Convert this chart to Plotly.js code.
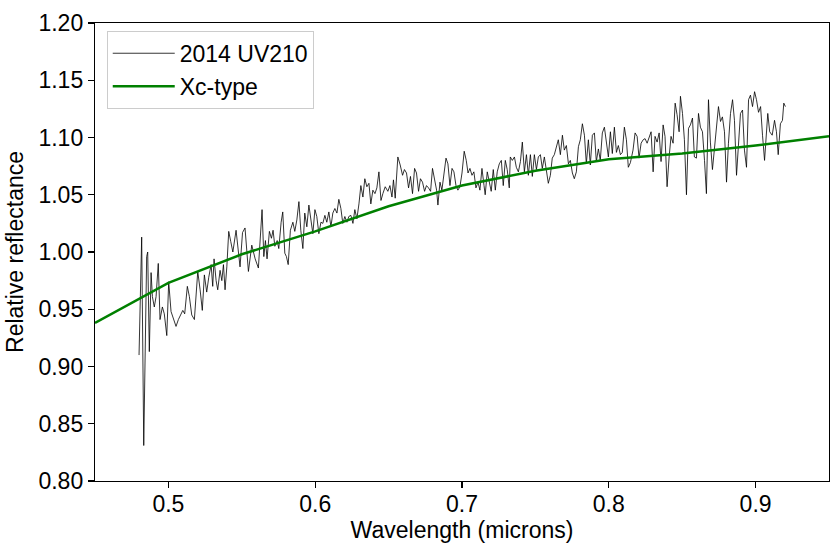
<!DOCTYPE html>
<html>
<head>
<meta charset="utf-8">
<script src="https://cdn.plot.ly/plotly-3.0.1.min.js"></script>
<style>html,body{margin:0;padding:0;background:#fff;}#chart{width:838px;height:548px;}</style>
</head>
<body>
<div id="chart"></div>
<script>
// Spectrum of 2014 UV210 (wavelength in microns, relative reflectance)
const specWl = [0.4800,0.4818,0.4832,0.4852,0.4859,0.4870,0.4882,0.4891,0.4904,0.4916,0.4931,0.4943,0.4959,0.4972,0.4989,0.5002,0.5018,0.5034,0.5052,0.5068,0.5084,0.5098,0.5111,0.5129,0.5143,0.5159,0.5177,0.5200,0.5216,0.5231,0.5245,0.5261,0.5275,0.5291,0.5302,0.5311,0.5325,0.5336,0.5352,0.5364,0.5375,0.5386,0.5398,0.5411,0.5425,0.5439,0.5461,0.5477,0.5488,0.5505,0.5522,0.5545,0.5568,0.5591,0.5613,0.5638,0.5650,0.5661,0.5672,0.5688,0.5702,0.5713,0.5725,0.5741,0.5752,0.5768,0.5779,0.5793,0.5804,0.5816,0.5831,0.5848,0.5861,0.5875,0.5889,0.5902,0.5916,0.5929,0.5943,0.5957,0.5970,0.5984,0.5998,0.6011,0.6025,0.6039,0.6052,0.6066,0.6079,0.6093,0.6107,0.6120,0.6134,0.6148,0.6161,0.6175,0.6188,0.6202,0.6216,0.6229,0.6243,0.6257,0.6270,0.6284,0.6298,0.6311,0.6325,0.6338,0.6352,0.6366,0.6379,0.6393,0.6407,0.6420,0.6434,0.6448,0.6461,0.6477,0.6495,0.6509,0.6523,0.6533,0.6545,0.6563,0.6579,0.6595,0.6608,0.6622,0.6636,0.6649,0.6663,0.6677,0.6690,0.6704,0.6717,0.6731,0.6745,0.6758,0.6772,0.6786,0.6799,0.6813,0.6827,0.6836,0.6850,0.6863,0.6877,0.6891,0.6904,0.6918,0.6932,0.6945,0.6959,0.6972,0.6986,0.7000,0.7015,0.7029,0.7041,0.7054,0.7068,0.7081,0.7095,0.7109,0.7122,0.7136,0.7150,0.7158,0.7172,0.7186,0.7199,0.7213,0.7227,0.7240,0.7254,0.7268,0.7281,0.7295,0.7308,0.7322,0.7329,0.7343,0.7357,0.7370,0.7384,0.7398,0.7411,0.7425,0.7439,0.7452,0.7466,0.7479,0.7493,0.7507,0.7520,0.7534,0.7547,0.7561,0.7575,0.7588,0.7602,0.7615,0.7629,0.7643,0.7656,0.7670,0.7684,0.7697,0.7711,0.7725,0.7738,0.7752,0.7765,0.7779,0.7793,0.7806,0.7820,0.7834,0.7847,0.7861,0.7874,0.7888,0.7902,0.7915,0.7929,0.7942,0.7956,0.7970,0.7983,0.7997,0.8011,0.8024,0.8038,0.8052,0.8065,0.8079,0.8092,0.8106,0.8120,0.8133,0.8147,0.8165,0.8179,0.8193,0.8206,0.8220,0.8234,0.8247,0.8261,0.8274,0.8288,0.8302,0.8315,0.8329,0.8343,0.8356,0.8370,0.8383,0.8397,0.8411,0.8424,0.8438,0.8452,0.8465,0.8479,0.8488,0.8502,0.8515,0.8529,0.8543,0.8556,0.8570,0.8583,0.8597,0.8611,0.8624,0.8638,0.8652,0.8665,0.8679,0.8692,0.8706,0.8720,0.8733,0.8747,0.8761,0.8774,0.8788,0.8802,0.8815,0.8829,0.8843,0.8856,0.8870,0.8883,0.8897,0.8911,0.8924,0.8938,0.8952,0.8965,0.8979,0.8993,0.9006,0.9020,0.9034,0.9047,0.9061,0.9083,0.9096,0.9113,0.9129,0.9142,0.9154,0.9169,0.9183,0.9192,0.9203];
const specRefl = [0.910,1.013,0.831,0.996,1.000,0.913,0.982,0.961,0.952,0.961,0.990,0.941,0.952,0.946,0.927,0.974,0.948,0.941,0.935,0.941,0.946,0.949,0.946,0.970,0.961,0.945,0.941,0.983,0.967,0.949,0.980,0.965,0.978,0.989,0.970,0.994,0.975,0.967,0.984,0.975,0.989,0.967,0.987,1.018,1.009,1.000,1.019,0.997,0.987,1.017,1.021,0.983,1.006,0.994,0.986,1.037,0.996,1.010,0.994,1.018,1.012,1.019,1.005,1.010,1.003,1.026,1.035,0.999,0.996,0.989,1.019,1.026,1.018,1.028,1.044,1.019,1.003,1.034,1.022,1.041,1.028,1.016,1.037,1.031,1.016,1.026,1.025,1.032,1.026,1.035,1.022,1.034,1.038,1.034,1.046,1.038,1.025,1.031,1.026,1.031,1.032,1.025,1.037,1.029,1.042,1.058,1.048,1.064,1.057,1.060,1.042,1.054,1.051,1.056,1.070,1.045,1.051,1.057,1.053,1.058,1.048,1.063,1.047,1.083,1.076,1.067,1.072,1.069,1.056,1.066,1.051,1.073,1.069,1.053,1.064,1.061,1.053,1.058,1.056,1.053,1.073,1.063,1.054,1.041,1.061,1.054,1.070,1.082,1.077,1.058,1.073,1.070,1.058,1.054,1.057,1.069,1.088,1.080,1.069,1.073,1.067,1.070,1.056,1.061,1.054,1.073,1.058,1.050,1.070,1.061,1.053,1.072,1.054,1.070,1.077,1.080,1.058,1.080,1.072,1.056,1.083,1.080,1.083,1.074,1.070,1.079,1.096,1.070,1.085,1.067,1.085,1.066,1.085,1.072,1.083,1.085,1.073,1.083,1.069,1.060,1.067,1.082,1.085,1.093,1.098,1.085,1.102,1.089,1.093,1.077,1.080,1.069,1.064,1.070,1.092,1.098,1.112,1.102,1.077,1.098,1.076,1.102,1.104,1.079,1.090,1.080,1.104,1.109,1.095,1.083,1.105,1.086,1.109,1.087,1.093,1.085,1.087,1.109,1.098,1.074,1.078,1.089,1.104,1.101,1.082,1.095,1.098,1.099,1.095,1.099,1.105,1.070,1.101,1.096,1.104,1.079,1.111,1.101,1.057,1.083,1.101,1.095,1.130,1.120,1.105,1.136,1.121,1.098,1.050,1.108,1.111,1.117,1.083,1.082,1.121,1.109,1.105,1.080,1.051,1.133,1.096,1.072,1.093,1.105,1.127,1.114,1.118,1.105,1.061,1.095,1.121,1.133,1.115,1.067,1.092,1.121,1.124,1.089,1.074,1.133,1.137,1.127,1.140,1.133,1.122,1.127,1.102,1.080,1.121,1.105,1.102,1.115,1.105,1.085,1.112,1.115,1.130,1.127];

// Xc-type reference spectrum
const xcWl = [0.45,0.50,0.55,0.60,0.65,0.70,0.75,0.80,0.85,0.90,0.95];
const xcRefl = [0.938,0.973,0.998,1.018,1.040,1.058,1.071,1.081,1.086,1.093,1.101];

const seriesNames = ["2014 UV210", "Xc-type"];
const xTickVals = [0.5,0.6,0.7,0.8,0.9];
const yTickVals = [0.80,0.85,0.90,0.95,1.00,1.05,1.10,1.15,1.20];

const font = "Liberation Sans, Arial, sans-serif";
const fs = 23;

const traces = [
  {x: specWl, y: specRefl, type: "scatter", mode: "lines", name: seriesNames[0],
   line: {color: "#000000", width: 0.8}},
  {x: xcWl, y: xcRefl, type: "scatter", mode: "lines", name: seriesNames[1],
   line: {color: "#008000", width: 2.5}}
];

const axisCommon = {
  showgrid: false, zeroline: false, showline: true, mirror: true,
  linecolor: "#000", linewidth: 1.2, ticks: "outside", ticklen: 6, tickwidth: 1.2,
  tickcolor: "#000", tickfont: {family: font, size: fs, color: "#000"}
};

const layout = {
  width: 838, height: 548,
  margin: {l: 95, r: 9, t: 23, b: 67},
  paper_bgcolor: "#fff", plot_bgcolor: "#fff",
  font: {family: font, size: fs, color: "#000"},
  xaxis: Object.assign({}, axisCommon, {
    range: [0.45, 0.95], tickvals: xTickVals, tickformat: ".1f",
    ticklabelstandoff: -4,
    title: {text: "Wavelength (microns)", font: {family: font, size: fs}, standoff: 0}
  }),
  yaxis: Object.assign({}, axisCommon, {
    range: [0.80, 1.20], tickvals: yTickVals, tickformat: ".2f",
    title: {text: "Relative reflectance", font: {family: font, size: fs}, standoff: 8}
  }),
  showlegend: true,
  legend: {
    x: 0.016, y: 0.983, xanchor: "left", yanchor: "top",
    bgcolor: "rgba(255,255,255,0.9)", bordercolor: "#cccccc", borderwidth: 1,
    font: {family: font, size: fs, color: "#000"}, tracegroupgap: 0,
    itemwidth: 62
  }
};

Plotly.newPlot("chart", traces, layout, {displayModeBar: false, staticPlot: true});
</script>
</body>
</html>
